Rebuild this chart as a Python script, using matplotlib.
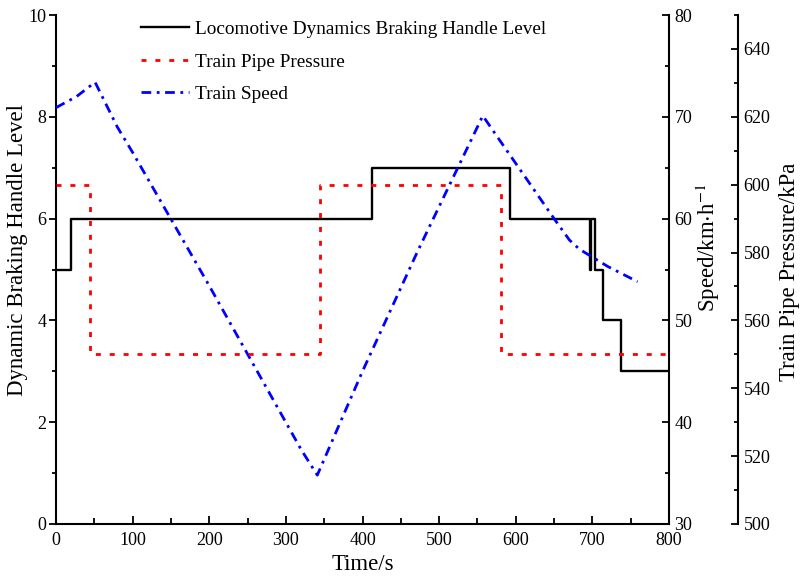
import matplotlib
matplotlib.use("Agg")
import matplotlib.pyplot as plt
from matplotlib.ticker import MultipleLocator

plt.rcParams['font.family'] = ['Liberation Serif', 'DejaVu Serif']
plt.rcParams['mathtext.fontset'] = 'stix'

# Data
handle_t = [0, 20, 413, 592, 697, 698, 704, 714, 737, 800]
handle_lv = [5, 6, 7, 6, 5, 6, 5, 4, 3, 3]

pipe_t = [0, 45, 345, 581, 800]
pipe_p = [600, 550, 600, 550, 550]

speed_t = [0, 27, 51, 80, 100, 200, 320, 341, 400, 472, 557, 579, 650, 670, 683, 696, 720, 759]
speed_v = [70.9, 72.0, 73.4, 69.0, 66.5, 53.4, 37.3, 34.8, 45.0, 56.8, 70.1, 67.7, 60.0, 57.9, 57.0, 56.4, 55.3, 53.8]

W, H = 801, 577
fig = plt.figure(figsize=(W/100, H/100), dpi=100)
L, R, B, T = 56, 669, 524, 15
ax = fig.add_axes([L/W, 1 - B/H, (R-L)/W, (B-T)/H])
ax2 = ax.twinx()
ax3 = ax.twinx()

l1, = ax.plot(handle_t, handle_lv, drawstyle='steps-post', color='black', lw=1.7,
              label='Locomotive Dynamics Braking Handle Level')
l2, = ax3.plot(pipe_t, pipe_p, drawstyle='steps-post', color='red', lw=2.0,
               linestyle=(0, (1.8, 3.2)), label='Train Pipe Pressure')
l3, = ax2.plot(speed_t, speed_v, color='blue', lw=2.0,
               linestyle=(0, (3.5, 2, 1, 2)), label='Train Speed')

ax.set_xlim(0, 800)
ax.set_ylim(0, 10)
ax2.set_ylim(30, 80)
ax3.set_ylim(500, 650)

ax.xaxis.set_major_locator(MultipleLocator(100))
ax.xaxis.set_minor_locator(MultipleLocator(50))
ax.yaxis.set_major_locator(MultipleLocator(2))
ax.yaxis.set_minor_locator(MultipleLocator(1))
ax2.yaxis.set_major_locator(MultipleLocator(10))
ax2.yaxis.set_minor_locator(MultipleLocator(5))
ax3.yaxis.set_major_locator(MultipleLocator(20))
ax3.yaxis.set_minor_locator(MultipleLocator(10))

for a in (ax, ax2, ax3):
    a.spines['top'].set_visible(False)
    for s in a.spines.values():
        s.set_linewidth(1.5)

ax2.spines['left'].set_visible(False)
ax2.spines['bottom'].set_visible(False)
ax3.spines['left'].set_visible(False)
ax3.spines['bottom'].set_visible(False)
ax.spines['right'].set_visible(False)
ax3.spines['right'].set_position(('axes', 1 + 69/(R-L)))

fs_tick = 13
ax.tick_params(axis='x', which='major', direction='in', length=6, width=1.3, labelsize=fs_tick, pad=6)
ax.tick_params(axis='x', which='minor', direction='in', length=4, width=1.3)
ax.tick_params(axis='y', which='major', direction='out', length=5, width=1.3, labelsize=fs_tick, pad=2)
ax.tick_params(axis='y', which='minor', direction='out', length=3, width=1.3)
for a in (ax2, ax3):
    a.tick_params(axis='y', which='major', direction='in', length=5, width=1.3, labelsize=fs_tick, pad=4)
    a.tick_params(axis='y', which='minor', direction='in', length=3, width=1.3)

fs_lab = 16.4
ax.set_xlabel('Time/s', fontsize=fs_lab, labelpad=3)
ax.set_ylabel('Dynamic Braking Handle Level', fontsize=fs_lab)
ax2.set_ylabel('Speed/km$\\cdot$h$^{-1}$', fontsize=fs_lab)
ax3.set_ylabel('Train Pipe Pressure/kPa', fontsize=fs_lab)

def px2ax(xp, yp):
    return (xp - L) / (R - L), (B - yp) / (B - T)

for a, (xp, yp) in ((ax, (18, 250)), (ax2, (708, 248)), (ax3, (790, 272))):
    a.yaxis.label.set_verticalalignment('center')
    a.yaxis.label.set_horizontalalignment('center')
    a.yaxis.set_label_coords(*px2ax(xp, yp))

leg = ax.legend(handles=[l1, l2, l3], loc='upper left', bbox_to_anchor=(0.12, 1.012),
                frameon=False, fontsize=13.9, handlelength=2.5, handletextpad=0.3,
                labelspacing=0.78, borderaxespad=0.2)

fig.savefig('out.png', dpi=100)
